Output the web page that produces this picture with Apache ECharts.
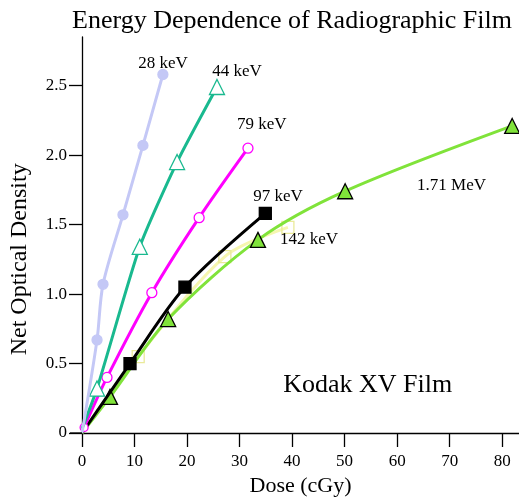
<!DOCTYPE html>
<html><head><meta charset="utf-8">
<script src="https://cdn.jsdelivr.net/npm/echarts@6/dist/echarts.min.js"></script>
<style>html,body{margin:0;padding:0;background:#fff}#c{width:519px;height:498px}</style>
</head><body><div id="c"></div>
<script>
const FONT = '"Liberation Serif","DejaVu Serif",serif';
const xTicks = [0,10,20,30,40,50,60,70,80];
const yTicks = [0,0.5,1.0,1.5,2.0,2.5];
const kev28 = [[0,0],[2.86,0.67],[4.0,1.07],[7.8,1.57],[11.6,2.07],[15.4,2.58]];
const kev44 = [[0,0.03],[2.86,0.32],[11.0,1.34],[18.1,1.95],[25.7,2.49]];
const kev79 = [[0.4,0.04],[4.76,0.40],[13.3,1.01],[22.3,1.55],[31.6,2.05]];
const kev97 = [[0,0],[9.14,0.50],[19.6,1.05],[34.9,1.58]];
const kev142 = [[0,0],[10.7,0.55],[27.2,1.27],[39.2,1.48]];
const mev171 = [[0,0],[5.33,0.26],[16.4,0.82],[33.5,1.39],[50.1,1.74],[81.9,2.21]];
const seriesNames = ['28 keV','44 keV','79 keV','97 keV','142 keV','1.71 MeV'];
const labelAnchors = [[10.7,2.66],[24.8,2.60],[29.5,2.22],[32.6,1.70],[37.7,1.39],[63.8,1.78]];
const filmLabel = 'Kodak XV Film';
const filmAnchor = [38.3,0.345];
const yAxisName = 'Net Optical Density';
const yNameCenter = 1.25;

const chart = echarts.init(document.getElementById('c'));
function ser(name, data, color, symbol, size, fill, border, width, smooth, z, showFirst){
  const d = data.map((v,i)=> (i===0 && !showFirst) ? {value:v, symbol:'none'} : (i===0 ? {value:v, symbolSize:size*0.8} : v));
  return {name, type:'line', data:d, smooth, z, symbol, symbolSize:size, showAllSymbol:true,
    lineStyle:{color, width}, itemStyle:{color:fill, borderColor:border, borderWidth:1.3},
    animation:false};
}
chart.setOption({
  animation:false,
  title:{text:'Energy Dependence of Radiographic Film', left:287, textAlign:'center', top:3,
    textStyle:{fontFamily:FONT, fontSize:26, fontWeight:'normal', color:'#000'}},
  grid:{left:82, right:0, top:37, bottom:65, containLabel:false, outerBoundsMode:'none'},
  xAxis:{type:'value', min:0, max:83.2, interval:10,
    name:'Dose (cGy)', nameLocation:'middle', nameGap:42,
    nameTextStyle:{fontFamily:FONT, fontSize:22, color:'#000'},
    axisLine:{lineStyle:{color:'#000', width:1.3}},
    axisTick:{length:14, lineStyle:{color:'#000', width:1.3}},
    axisLabel:{fontFamily:FONT, fontSize:17, color:'#000', margin:20, showMaxLabel:false},
    splitLine:{show:false}},
  yAxis:{type:'value', min:0, max:2.85, interval:0.5,
    axisLine:{lineStyle:{color:'#000', width:1.3}},
    axisTick:{length:13, lineStyle:{color:'#000', width:1.3}},
    axisLabel:{fontFamily:FONT, fontSize:17, color:'#000', margin:15, showMaxLabel:false,
      formatter:v=> v===0 ? '0' : v.toFixed(1)},
    splitLine:{show:false}},
  series:[
    ser(seriesNames[4], kev142, '#f6f6b0', 'rect', 12, 'rgba(255,255,255,0)', '#eaea9a', 3, 0.3, 1, false),
    ser(seriesNames[5], mev171, '#80e33a', 'triangle', 15, '#80e33a', '#000', 3, 0.3, 2, false),
    ser(seriesNames[3], kev97, '#000', 'rect', 12, '#000', '#000', 3, 0.3, 3, false),
    ser(seriesNames[2], kev79, '#ff00ff', 'circle', 10, '#fff', '#ff00ff', 3, 0.3, 4, true),
    ser(seriesNames[1], kev44, '#19b98f', 'triangle', 15, '#fff', '#19b98f', 3, 0.2, 5, false),
    ser(seriesNames[0], kev28, '#c4c8f6', 'circle', 10, '#c4c8f6', '#c4c8f6', 3, 0.3, 6, false)
  ]
});
const g = [];
seriesNames.forEach((n,i)=>{
  const p = chart.convertToPixel({gridIndex:0}, labelAnchors[i]);
  g.push({type:'text', x:p[0], y:p[1], z:100, style:{text:n, fontFamily:FONT, fontSize:17, fill:'#000', textVerticalAlign:'middle'}});
});
const fp = chart.convertToPixel({gridIndex:0}, filmAnchor);
g.push({type:'text', x:fp[0], y:fp[1], z:100, style:{text:filmLabel, fontFamily:FONT, fontSize:26, fill:'#000', textVerticalAlign:'middle'}});
const yc = chart.convertToPixel({gridIndex:0}, [0, yNameCenter]);
g.push({type:'text', x:20, y:yc[1], rotation:Math.PI/2, z:100,
  style:{text:yAxisName, fontFamily:FONT, fontSize:24, fill:'#000', textAlign:'center', textVerticalAlign:'middle'}});
const o = chart.convertToPixel({gridIndex:0}, [0,0]);
g.push({type:'line', z:50, shape:{x1:o[0]-12, y1:o[1], x2:o[0], y2:o[1]}, style:{stroke:'#000', lineWidth:1.3}});
chart.setOption({graphic:g});
</script></body></html>
